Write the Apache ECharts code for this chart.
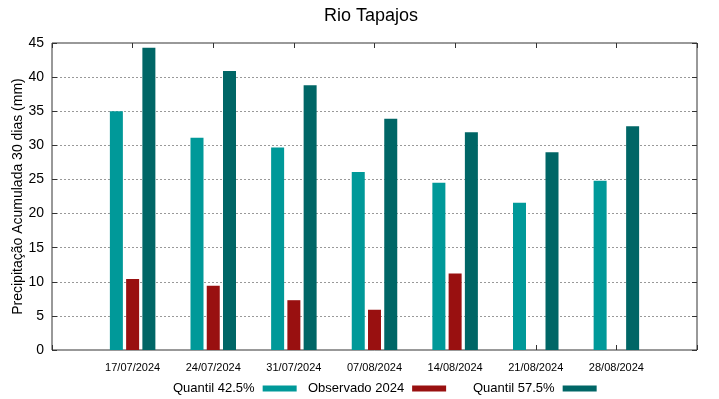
<!DOCTYPE html>
<html>
<head>
<meta charset="utf-8">
<script src="https://cdn.jsdelivr.net/npm/echarts@6/dist/echarts.min.js"></script>
<style>
  html, body { margin: 0; padding: 0; background: #fff; }
</style>
</head>
<body>
<div id="chart" style="width: 719px; height: 399px"></div>
<script>
// datas (posição 0 e 8 ficam vazias, margem do gráfico)
var dates = ["", "17/07/2024", "24/07/2024", "31/07/2024", "07/08/2024", "14/08/2024", "21/08/2024", "28/08/2024", ""];
var q425 = [35.0, 31.1, 29.7, 26.1, 24.5, 21.6, 24.8];
var obs2024 = [10.4, 9.4, 7.3, 5.9, 11.2, null, null];
var q575 = [44.3, 40.9, 38.8, 33.9, 31.9, 29.0, 32.8];
var yTicks = { min: 0, max: 45, step: 5 };

var font = "Liberation Sans, Arial, sans-serif";

function pairs(values) {
  var out = [];
  for (let i = 0; i < values.length; i++) {
    out.push([i + 1, values[i]]);
  }
  return out;
}

var myChart = echarts.init(document.getElementById("chart"));

var tick = { show: true, inside: true, length: 5, lineStyle: { color: "#333" } };
var xBase = {
  type: "value",
  min: 0,
  max: dates.length - 1,
  interval: 1,
  splitLine: { show: false },
  axisLine: { show: false, onZero: false },
  axisTick: tick,
};
var yBase = {
  type: "value",
  min: yTicks.min,
  max: yTicks.max,
  interval: yTicks.step,
  axisLine: { show: false, onZero: false },
  axisTick: tick,
};

// legenda: texto e amostra, uma por série
var legendPos = [
  { name: "Quantil 42.5%", left: 173 },
  { name: "Observado 2024", left: 308 },
  { name: "Quantil 57.5%", left: 473 },
];

myChart.setOption({
  animation: false,
  textStyle: { fontFamily: font },
  title: {
    text: "Rio Tapajos",
    left: 366,
    textAlign: "center",
    top: 2,
    textStyle: { fontFamily: font, fontSize: 18, fontWeight: "normal", color: "#000" },
  },
  grid: {
    left: 52,
    right: 22,
    top: 43,
    bottom: 49,
    containLabel: false,
    outerBoundsMode: "none",
    show: true,
    borderColor: "#333",
    borderWidth: 1,
  },
  legend: legendPos.map(function (l) {
    return {
      data: [l.name],
      left: l.left,
      top: 382,
      align: "right",
      icon: "rect",
      itemWidth: 34,
      itemHeight: 6,
      itemGap: 0,
      padding: 0,
      textStyle: { fontFamily: font, fontSize: 13, color: "#000", padding: [0, 3, 0, 0] },
    };
  }),
  xAxis: [
    Object.assign({}, xBase, {
      position: "bottom",
      axisLabel: {
        margin: 12,
        fontSize: 11,
        color: "#000",
        fontFamily: font,
        formatter: function (value) {
          return dates[Math.round(value)] || "";
        },
      },
    }),
    Object.assign({}, xBase, { position: "top", axisLabel: { show: false } }),
  ],
  yAxis: [
    Object.assign({}, yBase, {
      position: "left",
      name: "Precipitação Acumulada 30 dias (mm)",
      nameLocation: "middle",
      nameGap: 27,
      nameMoveOverlap: false,
      nameTextStyle: { fontFamily: font, fontSize: 14, color: "#000" },
      axisLabel: { margin: 8, fontSize: 14, color: "#000", fontFamily: font },
      splitLine: { show: true, lineStyle: { color: "#999", type: [2, 2], width: 1 } },
    }),
    Object.assign({}, yBase, {
      position: "right",
      axisLabel: { show: false },
      splitLine: { show: false },
    }),
  ],
  series: [
    {
      name: "Quantil 42.5%",
      type: "bar",
      barWidth: 13,
      barGap: "25%",
      itemStyle: { color: "#009999" },
      data: pairs(q425),
    },
    {
      name: "Observado 2024",
      type: "bar",
      barWidth: 13,
      barGap: "25%",
      itemStyle: { color: "#991010" },
      data: pairs(obs2024),
    },
    {
      name: "Quantil 57.5%",
      type: "bar",
      barWidth: 13,
      barGap: "25%",
      itemStyle: { color: "#006666" },
      data: pairs(q575),
    },
  ],
});
</script>
</body>
</html>
